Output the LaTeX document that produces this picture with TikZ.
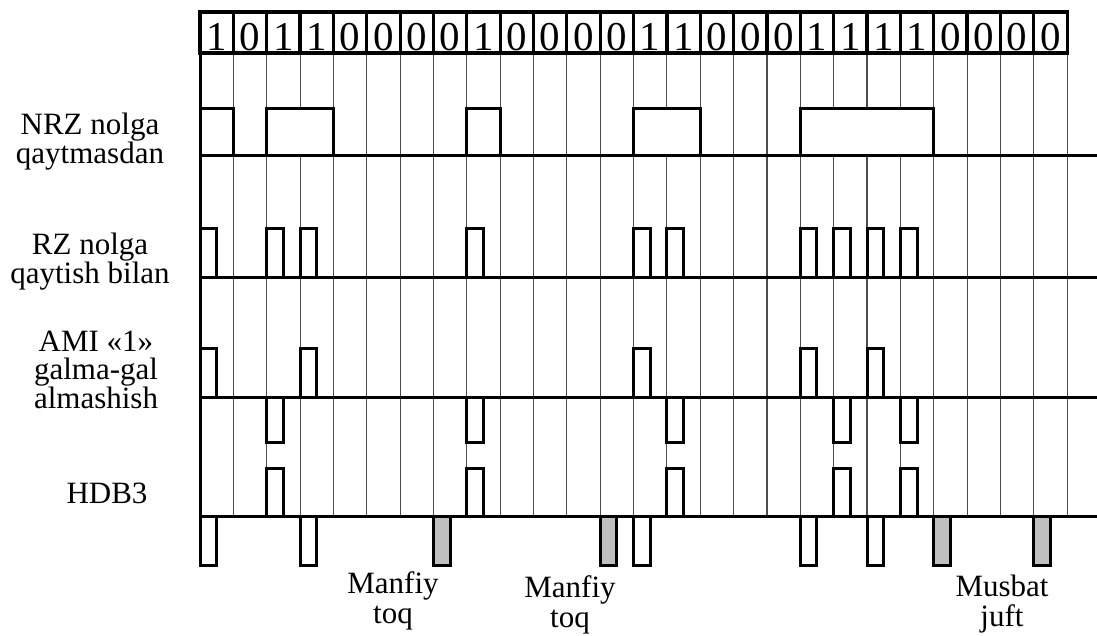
\documentclass[tikz,border=0pt]{standalone}
\usepackage{fontspec}
\setmainfont{Liberation Serif}
\begin{document}
\begin{tikzpicture}[x=1pt,y=-1pt,
  wave/.style={line width=3pt, line join=miter},
  bitbox/.style={line width=3.2pt},
  gridln/.style={line width=1.1pt, black!70},
  digit/.style={font=\fontsize{41}{41}\selectfont, inner sep=0pt, anchor=base},
  leftlbl/.style={font=\fontsize{31}{28.5}\selectfont, align=center, inner sep=0pt, anchor=base},
  botlbl/.style={font=\fontsize{31}{30}\selectfont, align=center, inner sep=0pt, anchor=base},
  extra/.style={wave, fill=black!25}]
\useasboundingbox (0,0) rectangle (1097,635);
\def\W{33.35}
% grid
\foreach \k in {1,...,26} \draw[gridln] ({200+\k*\W},53) -- ({200+\k*\W},516);
\draw[wave] (200,53) -- (200,516);
% bit boxes
\foreach \b [count=\k] in {1,0,1,1,0,0,0,0,1,0,0,0,0,1,1,0,0,0,1,1,1,1,0,0,0,0} {
  \draw[bitbox] ({200+(\k-1)*\W},12) rectangle ({200+\k*\W},53);
  \node[digit] (d\k) at ({200+(\k-0.5)*\W},50) {\b};
}
% NRZ
\foreach \a/\n in {1/1,3/2,9/1,14/2,19/4}
  \draw[wave,fill=white] ({200+(\a-1)*\W},155) rectangle ++({\n*\W},-47);
% RZ
\foreach \k in {1,3,4,9,14,15,19,20,21,22}
  \draw[wave,fill=white] ({200+(\k-1)*\W},277) rectangle ++({\W/2},-49);
% AMI
\foreach \k in {1,4,14,19,21}
  \draw[wave,fill=white] ({200+(\k-1)*\W},397) rectangle ++({\W/2},-49);
\foreach \k in {3,9,15,20,22}
  \draw[wave,fill=white] ({200+(\k-1)*\W},397) rectangle ++({\W/2},45);
% HDB3
\foreach \k in {3,9,15,20,22}
  \draw[wave,fill=white] ({200+(\k-1)*\W},516) rectangle ++({\W/2},-48);
\foreach \k in {1,4,14,19,21}
  \draw[wave,fill=white] ({200+(\k-1)*\W},516) rectangle ++({\W/2},49);
\foreach \k in {8,13,23,26}
  \draw[extra] ({200+(\k-1)*\W},516) rectangle ++({\W/2},49);
% baselines
\foreach \y in {155,277,397,516} \draw[wave] (200,\y) -- (1097,\y);
% labels (base = last line's baseline)
\node[leftlbl] (lnrz) at (90,163) {NRZ nolga\\qaytmasdan};
\node[leftlbl] (lrz) at (90,283) {RZ nolga\\qaytish bilan};
\node[leftlbl] (lami) at (96,408) {AMI «1»\\galma-gal\\almashish};
\node[leftlbl] (lhdb) at (107,503) {HDB3};
\node[botlbl] (m1) at (393,623) {Manfiy\\toq};
\node[botlbl] (m2) at (570,627) {Manfiy\\toq};
\node[botlbl] (m3) at (1002,626) {Musbat\\juft};
\end{tikzpicture}
\end{document}
